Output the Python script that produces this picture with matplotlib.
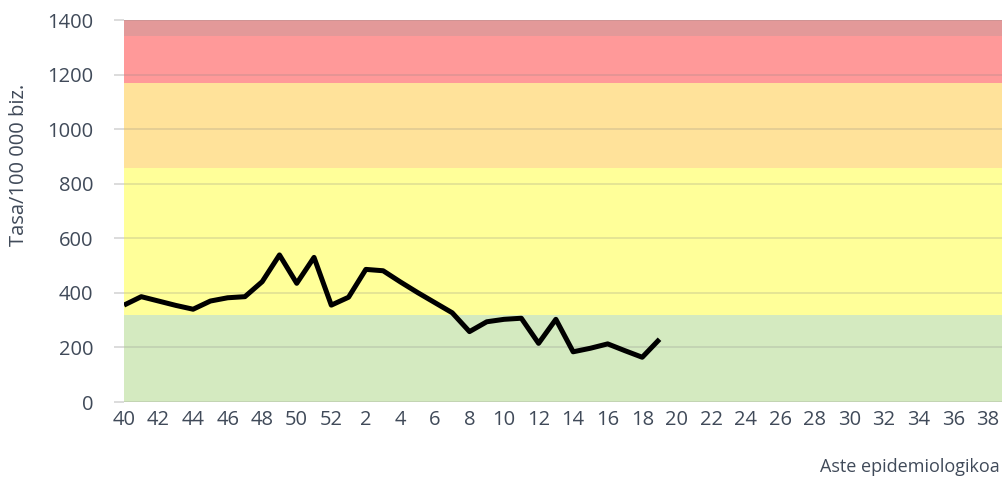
import matplotlib.pyplot as plt

# Weeks shown on the category axis: 40..52 then 1..39
weeks = list(range(40, 53)) + list(range(1, 40))

# Rate per 100 000 inhabitants (weeks 40..52, 1..19)
rates = [355, 386, 370, 354, 340, 370, 382, 386, 441, 539, 435, 530,
         355, 384, 486, 481, 440, 401, 364, 327, 258, 294, 303, 307,
         215, 303, 184, 197, 213, 188, 164, 230]

# Threshold bands
band_edges = [0, 319, 858, 1168, 1340, 1400]
band_colors = ["#d4eac0", "#ffff99", "#ffe29a", "#ff9999", "#e39999"]

yticks = [0, 200, 400, 600, 800, 1000, 1200, 1400]

text_color = "#404a59"
plt.rcParams["font.family"] = ["Open Sans", "DejaVu Sans"]

fig = plt.figure(figsize=(10.03, 4.8), dpi=100)
ax = fig.add_axes([124 / 1003, 78 / 480, 881 / 1003, 382 / 480])

for lo, hi, c in zip(band_edges[:-1], band_edges[1:], band_colors):
    ax.axhspan(lo, hi, color=c, lw=0, zorder=0)

for y in yticks:
    ax.axhline(y, color="#808080", alpha=0.22, lw=1.3, zorder=1)

x = list(range(len(rates)))
ax.plot(x, rates, color="black", lw=3.6, solid_joinstyle="round",
        solid_capstyle="butt", zorder=3)

ax.set_xlim(0, len(weeks) - 1)
ax.set_ylim(0, 1400)

ax.set_xticks(range(0, len(weeks), 2))
ax.set_xticklabels([str(w) for w in weeks[::2]])
ax.set_yticks(yticks)

ax.tick_params(axis="x", length=0, pad=6, labelsize=14.5, labelcolor=text_color)
ax.tick_params(axis="y", length=7.2, width=1.3, color="#d9d9d9", pad=15,
               labelsize=14.5, labelcolor=text_color)

for s in ax.spines.values():
    s.set_visible(False)

fig.text(19 / 1003, 1 - 165 / 480, "Tasa/100 000 biz.", rotation=90,
         fontsize=14.5, color=text_color, ha="center", va="center")
fig.text(910 / 1003, 1 - 467 / 480, "Aste epidemiologikoa", fontsize=13,
         color=text_color, ha="center", va="center")

fig.savefig("out.png", dpi=100)
